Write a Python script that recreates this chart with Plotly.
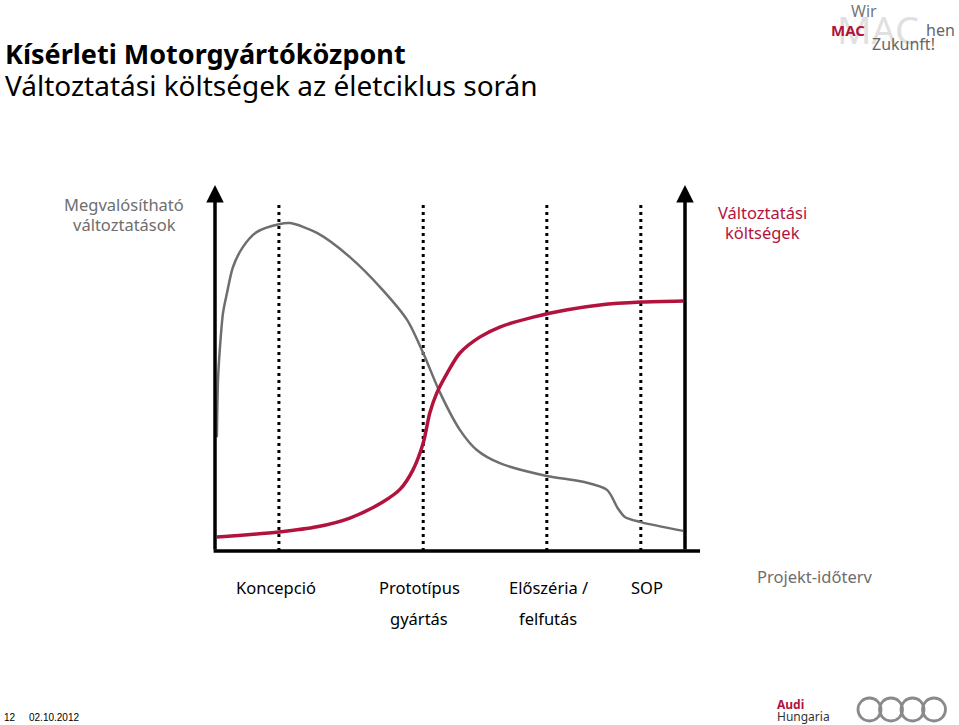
import plotly.graph_objects as go

# ---- data (x: project timeline 0..100, y: relative level 0..100) ----
gray_x = [0.4, 0.64, 1.06, 1.7, 2.55, 3.83, 5.96, 8.94, 13.6, 16.0, 21.7, 28.7, 35.7, 40.9, 44.3, 47.9, 52.1, 55.7, 60.6, 70.6, 78.3, 83.4, 85.7, 87.2, 90.6, 99.6]
gray_y = [31.1, 46.7, 55.7, 65.0, 70.5, 77.6, 83.1, 87.2, 89.3, 89.6, 86.9, 80.3, 71.3, 63.1, 54.1, 43.2, 33.1, 27.6, 24.0, 20.5, 18.9, 16.7, 11.7, 9.3, 7.9, 5.5]
red_x = [0.4, 13.6, 21.7, 28.7, 35.7, 39.4, 42.1, 44.3, 45.7, 47.2, 49.4, 52.1, 56.4, 60.6, 67.7, 75.0, 81.9, 90.6, 99.6]
red_y = [3.8, 5.2, 6.6, 9.0, 13.4, 16.9, 22.1, 29.5, 37.7, 43.2, 48.6, 54.1, 58.5, 61.2, 63.9, 65.9, 67.2, 68.0, 68.3]
phase_x = [13.6, 44.3, 70.6, 90.6]
phase_labels = [["Koncepció"], ["Prototípus", "gyártás"], ["Előszéria /", "felfutás"], ["SOP"]]
phase_top = 95.6

W, H = 959, 725
# pixel mapping for layout only
X0, XS = 215, 4.7
Y0, YS = 551, 3.66
xr = [-X0 / XS, (W - X0) / XS]
yr = [(Y0 - H) / YS, Y0 / YS]

def px(x):
    return x / W

def py(y):
    return 1 - y / H

RED = "#b2133d"
GRAY = "#6e6e6e"
FONT = "Noto Sans"

fig = go.Figure()
fig.add_trace(go.Scatter(x=gray_x, y=gray_y, mode="lines", line=dict(color=GRAY, width=2.5, shape="spline", smoothing=0.8), hoverinfo="skip"))
fig.add_trace(go.Scatter(x=red_x, y=red_y, mode="lines", line=dict(color=RED, width=3.5, shape="spline", smoothing=0.8), hoverinfo="skip"))

shapes = []
for xv in phase_x:
    shapes.append(dict(type="line", xref="x", yref="y", x0=xv, x1=xv, y0=0, y1=phase_top,
                       line=dict(color="black", width=3, dash="3px,4px"), layer="below"))
# baseline
shapes.append(dict(type="line", xref="x", yref="y", x0=-0.3, x1=103.2, y0=0, y1=0, line=dict(color="black", width=3.5)))
# Audi rings
for cx in [869.5, 891, 912.5, 934]:
    shapes.append(dict(type="circle", xref="paper", yref="paper", x0=px(cx - 11.5), x1=px(cx + 11.5),
                       y0=py(721), y1=py(698), line=dict(color="#8a8a8a", width=2.8)))

annotations = []
# vertical axes with arrows
for xv in [0, 100]:
    annotations.append(dict(x=xv, y=100, ax=xv, ay=0, xref="x", yref="y", axref="x", ayref="y",
                            showarrow=True, arrowhead=2, arrowsize=1, arrowwidth=3.5, arrowcolor="black", text=""))

def txt(t, x, y, size, color="black", anchor="center", bold=False, family=FONT):
    if bold:
        t = "<b>" + t + "</b>"
    annotations.append(dict(text=t, x=px(x), y=py(y), xref="paper", yref="paper", showarrow=False,
                            xanchor=anchor, yanchor="middle", font=dict(size=size, color=color, family=family)))

txt("Kísérleti Motorgyártóközpont", 3, 53, 27, bold=True, anchor="left")
txt("Változtatási költségek az életciklus során", 3, 85, 28, anchor="left")
txt("Megvalósítható", 124, 204, 16.5, color=GRAY)
txt("változtatások", 124, 224, 16.5, color=GRAY)
txt("Változtatási", 762, 212, 16.5, color=RED)
txt("költségek", 762, 232, 16.5, color=RED)

label_px = [276, 419, 548, 647]
for lx, lab in zip(label_px, phase_labels):
    for i, line in enumerate(lab):
        txt(line, lx, 587 + 31 * i, 16.5)
txt("Projekt-időterv", 815, 576, 16.5, color=GRAY)

# footer
txt("12", 2, 717, 10, anchor="left", family="Liberation Sans")
txt("02.10.2012", 27, 717, 10, anchor="left", family="Liberation Sans")
txt("Audi", 775, 704, 12, color=RED, anchor="left", bold=True)
txt("Hungaria", 775, 716, 12, color="#333333", anchor="left")

# MAC logo
txt("Wir", 864, 11, 16, color="#777777")
txt("MAC", 878, 29, 38, color="#e0e0e0")
txt("MAC", 848, 30, 15, color=RED, bold=True)
txt("hen", 940, 30, 16, color="#666666")
txt("Zukunft!", 903, 44, 16, color="#666666")

fig.update_layout(
    width=W, height=H, margin=dict(l=0, r=0, t=0, b=0),
    paper_bgcolor="white", plot_bgcolor="white", showlegend=False,
    xaxis=dict(range=xr, visible=False, fixedrange=True),
    yaxis=dict(range=yr, visible=False, fixedrange=True),
    shapes=shapes, annotations=annotations,
)
fig.write_html("out.html", config={"displayModeBar": False},
               post_script="document.body.style.margin='0';document.body.style.overflow='hidden';")
